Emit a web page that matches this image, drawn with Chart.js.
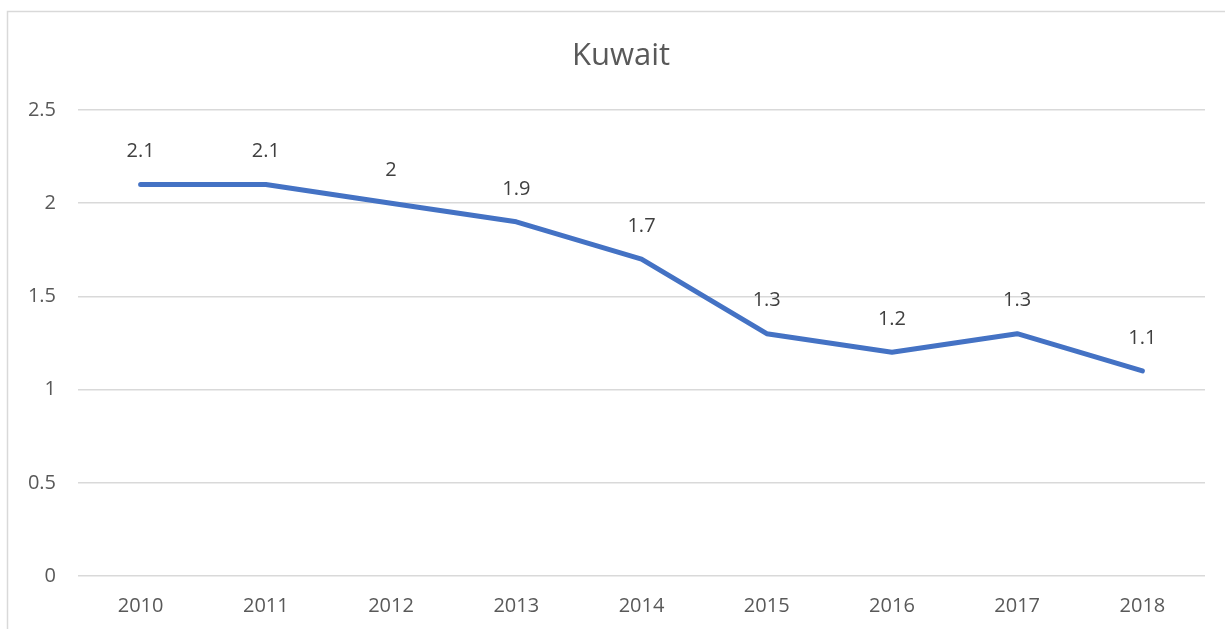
<!DOCTYPE html>
<html>
<head>
<meta charset="utf-8">
<script src="https://cdn.jsdelivr.net/npm/chart.js@4"></script>
<style>
  html, body { margin: 0; padding: 0; background: #fff; }
  #wrap { width: 1225px; height: 629px; }
</style>
</head>
<body>
<div id="wrap"><canvas id="chart" width="1225" height="629"></canvas></div>
<script>
// データ
const chartTitle = 'Kuwait';
const years = ['2010', '2011', '2012', '2013', '2014', '2015', '2016', '2017', '2018'];
const kuwaitValues = [2.1, 2.1, 2.0, 1.9, 1.7, 1.3, 1.2, 1.3, 1.1];
const yTicks = [0, 0.5, 1, 1.5, 2, 2.5];

const fontFamily = "'Open Sans', 'Liberation Sans', sans-serif";

// 枠線・タイトル・データラベル
const decorPlugin = {
    id: 'decor',
    beforeDraw(chart) {
        const ctx = chart.ctx;
        ctx.save();
        ctx.strokeStyle = '#d9d9d9';
        ctx.lineWidth = 1.5;
        ctx.strokeRect(7.5, 11.5, 1400, 800);

        // タイトル
        ctx.font = '31px ' + fontFamily;
        ctx.fillStyle = '#595959';
        ctx.textAlign = 'center';
        ctx.textBaseline = 'middle';
        ctx.fillText(chartTitle, 621, 56);
        ctx.restore();
    },
    afterDatasetsDraw(chart) {
        const ctx = chart.ctx;
        const meta = chart.getDatasetMeta(0);
        ctx.save();
        ctx.font = '20px ' + fontFamily;
        ctx.fillStyle = '#404040';
        ctx.textAlign = 'center';
        ctx.textBaseline = 'middle';
        meta.data.forEach((pt, i) => {
            ctx.fillText(String(kuwaitValues[i]), pt.x, pt.y - 33);
        });
        ctx.restore();
    }
};

new Chart(document.getElementById('chart'), {
    type: 'line',
    data: {
        labels: years,
        datasets: [{
            label: chartTitle,
            data: kuwaitValues,
            borderColor: '#4472C4',
            borderWidth: 5,
            borderCapStyle: 'round',
            borderJoinStyle: 'round',
            pointRadius: 0,
            tension: 0,
            fill: false
        }]
    },
    options: {
        responsive: false,
        animation: false,
        layout: { padding: { left: 0, right: 20, top: 110, bottom: 0 } },
        plugins: {
            legend: { display: false },
            tooltip: { enabled: false },
            title: { display: false }
        },
        scales: {
            x: {
                offset: true,
                grid: { display: false, drawTicks: false },
                border: { display: false },
                ticks: {
                    color: '#595959',
                    font: { family: fontFamily, size: 20 },
                    padding: 18,
                    maxRotation: 0
                },
                afterFit(scale) { scale.height = 53; }
            },
            y: {
                min: 0,
                max: 2.5,
                afterBuildTicks(scale) {
                    scale.ticks = yTicks.map(v => ({ value: v }));
                },
                grid: { color: '#d9d9d9', lineWidth: 1.5, drawTicks: false },
                border: { display: false },
                ticks: {
                    color: '#595959',
                    font: { family: fontFamily, size: 20 },
                    padding: 22,
                    callback: (v) => String(v)
                },
                afterFit(scale) { scale.width = 78; }
            }
        }
    },
    plugins: [decorPlugin]
});
</script>
</body>
</html>
